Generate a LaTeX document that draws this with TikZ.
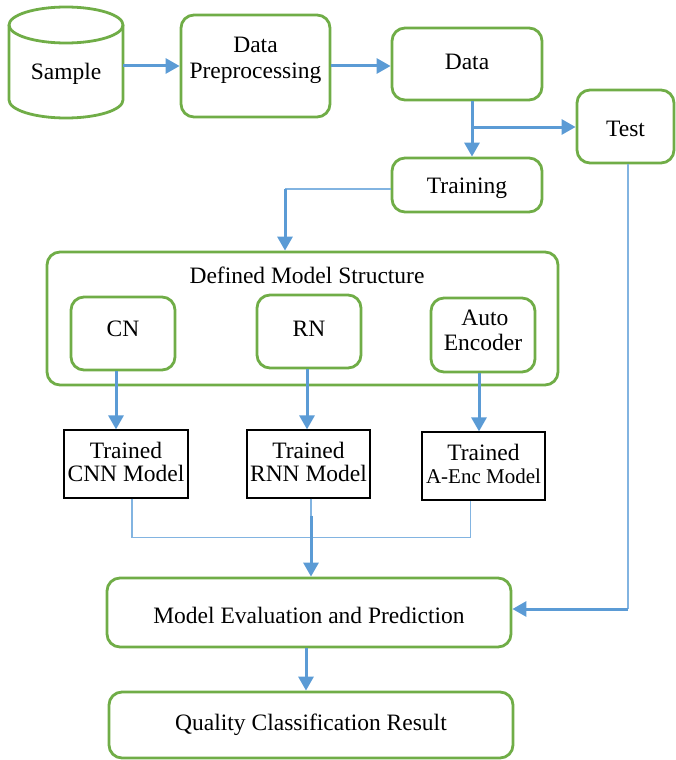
\documentclass[tikz,border=0pt]{standalone}
\usepackage{fontspec}
\setmainfont{Liberation Serif}
\usetikzlibrary{arrows.meta}
\definecolor{gr}{RGB}{112,173,71}
\definecolor{bl}{RGB}{91,155,213}
\definecolor{lbl}{RGB}{130,180,225}
\newcommand\updp[1]{\rule[-#1pt]{0pt}{#1pt}}
\newcommand\dnht[1]{\rule{0pt}{#1pt}}
\begin{document}
\begin{tikzpicture}[x=1pt,y=-1pt,
  font=\rmfamily\fontsize{23.5}{25}\selectfont,
  gbox/.style={draw=gr,line width=2.8pt,rounded corners=13pt,inner sep=0pt,align=center},
  kbox/.style={draw=black,line width=1.2pt,inner sep=0pt,align=center,font=\rmfamily\fontsize{23.5}{23}\selectfont},
  arr/.style={draw=bl,line width=3pt,-{Triangle[length=14pt,width=15pt]}},
  tline/.style={draw=lbl,line width=1.4pt}]
\useasboundingbox (0,0) rectangle (675,760);
% cylinder
\draw[gr,line width=2.8pt] (66,25) ellipse [x radius=57pt, y radius=18pt];
\draw[gr,line width=2.8pt] (9,25) -- (9,100) arc [start angle=180,end angle=360,x radius=57pt,y radius=18pt] -- (123,25);
\node[inner sep=0pt,minimum width=114pt] (sample) at (66,74) {Sample};
\node[gbox,minimum width=149pt,minimum height=102pt] (prep) at (255.5,66) {Data\\[1pt]Preprocessing\updp{17}};
\node[gbox,minimum width=150pt,minimum height=72pt] (data) at (467,64) {Data\updp{4}};
\node[gbox,minimum width=97pt,minimum height=73pt] (test) at (625.5,126.5) {\dnht{19.6}Test};
\node[gbox,minimum width=150pt,minimum height=54pt] (train) at (467,185) {\dnht{22}Training};
\node[gbox,minimum width=511pt,minimum height=133pt] (defined) at (302.5,318.5) {};
\node[inner sep=0pt] (dtitle) at (307,275) {Defined Model Structure};
\node[gbox,minimum width=104pt,minimum height=73pt] (cn) at (123,333.5) {CN\updp{10}};
\node[gbox,minimum width=104pt,minimum height=73pt] (rn) at (309,331.5) {RN\updp{6}};
\node[gbox,minimum width=104pt,minimum height=74pt] (ae) at (483,335) {\,Auto\\Encoder\updp{10}};
\node[kbox,minimum width=124pt,minimum height=68pt] (tcnn) at (126,464) {Trained\\CNN Model\updp{4}};
\node[kbox,minimum width=123pt,minimum height=68pt] (trnn) at (308.5,464) {Trained\\RNN Model\updp{4}};
\node[kbox,minimum width=123pt,minimum height=68pt] (tae) at (483.5,466) {Trained\\{\fontsize{21}{23}\selectfont A-Enc Model}\updp{4}};
\node[gbox,minimum width=404pt,minimum height=69pt] (eval) at (309,612.5) {\dnht{22}Model Evaluation and Prediction};
\node[gbox,minimum width=404pt,minimum height=66pt] (qual) at (311,725) {Quality Classification Result};
% connectors
\draw[arr] (sample.east |- prep.west) -- (prep.west);
\draw[arr] (prep.east) -- (prep.east -| data.west);
\draw[arr] ([xshift=5pt]data.south) -- ([xshift=5pt]train.north);
\coordinate (br) at (472,127);
\draw[arr] (br) -- (br -| test.west);
\coordinate (tk) at (285,189);
\draw[tline] (tk -| train.west) -- (tk);
\draw[arr] (tk) -- (tk |- defined.north);
\draw[arr] ([xshift=-7pt]cn.south) -- ([xshift=-7pt]cn.south |- tcnn.north);
\draw[arr] ([xshift=-2pt]rn.south) -- ([xshift=-2pt]rn.south |- trnn.north);
\draw[arr] ([xshift=-4pt]ae.south) -- ([xshift=-4pt]ae.south |- tae.north);
\draw[tline] ([xshift=6pt]tcnn.south) -- ++(0,39) -| ([xshift=-13pt]tae.south);
\draw[tline] ([xshift=2.5pt]trnn.south) -- ++(0,17) coordinate (rt);
\draw[arr] (rt) -- (rt |- eval.north);
\coordinate (tc) at (628,609);
\draw[tline] (tc |- test.south) -- (tc);
\draw[arr] (tc) -- (tc -| eval.east);
\draw[arr] ([xshift=-3pt]eval.south) -- ([xshift=-3pt]eval.south |- qual.north);
\end{tikzpicture}
\end{document}
